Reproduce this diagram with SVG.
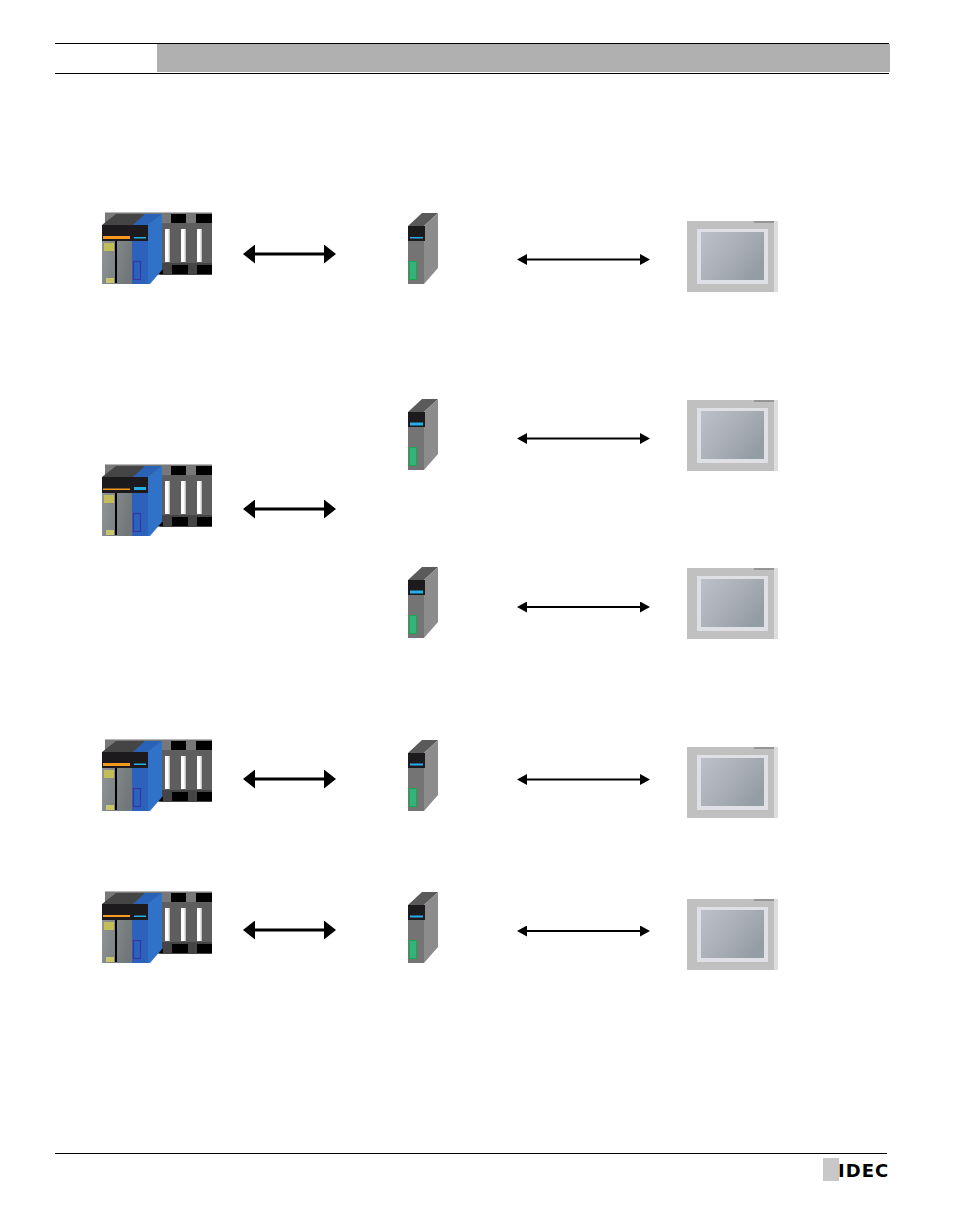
<svg xmlns="http://www.w3.org/2000/svg" width="954" height="1206" viewBox="0 0 954 1206">
<style>
.rule{stroke:#000;stroke-width:1.2;fill:none}
.thick{stroke:#000;stroke-width:3;fill:none}
.thin{stroke:#000;stroke-width:1.8;fill:none}
.k{fill:#000}
.head{fill:#1c1a1c}
.or{fill:#f59a1e}
.cy{fill:#25aee8}
.logo{font-family:"DejaVu Sans",sans-serif;font-weight:700;font-size:18px;letter-spacing:1px;fill:#000}
</style>
<defs>
<linearGradient id="gGray" x1="0" y1="0" x2="1" y2="0.3"><stop offset="0" stop-color="#8f9497"/><stop offset="1" stop-color="#72777a"/></linearGradient>
<linearGradient id="gScreen" x1="0" y1="0" x2="1" y2="0.6"><stop offset="0" stop-color="#bcc0c8"/><stop offset="0.5" stop-color="#acb1b8"/><stop offset="1" stop-color="#959da4"/></linearGradient>
<linearGradient id="gSlot" x1="0" y1="0" x2="1" y2="0"><stop offset="0" stop-color="#fff"/><stop offset="0.6" stop-color="#fff"/><stop offset="1" stop-color="#aaa"/></linearGradient>
<marker id="big0" markerUnits="userSpaceOnUse" markerWidth="12" markerHeight="19" refX="1" refY="9.5" orient="auto-start-reverse"><path d="M0 0L12 9.5L0 19Z" fill="#000"/></marker>
<marker id="small0" markerUnits="userSpaceOnUse" markerWidth="10" markerHeight="11" refX="1" refY="5.5" orient="auto-start-reverse"><path d="M0 0L10 5.5L0 11Z" fill="#000"/></marker>
<g id="plc">
<rect x="105" y="212" width="107" height="63" fill="#787878"/>
<rect x="105" y="212" width="107" height="1" fill="#b8b8b8"/>
<rect x="171" y="214" width="15" height="9" class="k"/>
<rect x="196" y="214" width="16" height="9" class="k"/>
<rect x="160" y="223" width="52" height="40" fill="#5e5e5e"/>
<rect x="160" y="263" width="52" height="12" fill="#454545"/>
<rect x="165" y="229" width="5" height="33" fill="url(#gSlot)"/>
<rect x="181" y="229" width="5" height="33" fill="url(#gSlot)"/>
<rect x="197" y="229" width="5" height="33" fill="url(#gSlot)"/>
<rect x="172" y="265" width="16" height="9" class="k"/>
<rect x="197" y="265" width="15" height="9" class="k"/>
<rect x="158" y="270" width="5" height="4" class="k"/>
<path d="M102 225L116 214H148L133 225Z" fill="#454545"/>
<path d="M133 225L145 214H162L148 225Z" fill="#2a62b8"/>
<path d="M148 225L162 214V270L150 284H148Z" fill="#2f72c8"/>
<rect x="102" y="241" width="30" height="43" fill="url(#gGray)"/>
<rect x="132" y="241" width="16" height="43" fill="#2c62bc"/>
<rect x="115" y="241" width="2" height="42" class="k"/>
<rect x="104" y="243" width="10" height="8" fill="#c2bd58"/>
<rect x="106" y="278" width="8" height="5" fill="#c9c56a"/>
<rect x="133.500" y="261.500" width="7" height="18" fill="none" stroke="#38389c" stroke-width="1.200"/>
<rect x="102" y="225" width="46" height="16" class="head"/>
</g>
<g id="mod">
<path d="M408 226L422 213H438L424 226Z" fill="#5a5a5a"/>
<path d="M424 226L438 213V268L424 284Z" fill="#8c8c8c"/>
<rect x="408" y="241" width="16" height="43" fill="#747474"/>
<rect x="408" y="226" width="17" height="15" class="head"/>
<rect x="409.500" y="261.500" width="7" height="18" fill="#35b27a" stroke="#17a84f" stroke-width="1"/>
</g>
<g id="scr">
<rect x="687" y="221" width="87" height="71" fill="#c0c0c0"/>
<rect x="774" y="221" width="4" height="71" fill="#dddddd"/>
<rect x="754" y="221" width="20" height="2" fill="#969696"/>
<rect x="697" y="229" width="71" height="55" fill="#dfe0e5"/>
<rect x="701" y="232" width="63" height="48" fill="url(#gScreen)"/>
</g>
</defs>

<g id="header">
<rect x="157" y="44" width="733" height="28" fill="#b0b0b0"/>
<path class="rule" d="M55 43.500H889M55 73.500H889"/>
</g>

<g id="plc1"><use href="#plc"/><rect x="103" y="236" width="27" height="3" class="or"/><rect x="134" y="237" width="12" height="1.500" class="cy"/></g>
<g id="plc2" transform="translate(0 252)"><use href="#plc"/><rect x="103" y="236.500" width="27" height="1.500" class="or"/><rect x="134" y="235" width="12" height="3" class="cy"/></g>
<g id="plc3" transform="translate(0 527)"><use href="#plc"/><rect x="103" y="236" width="27" height="3" class="or"/><rect x="134" y="236.500" width="12" height="1.500" class="cy"/></g>
<g id="plc4" transform="translate(0 679)"><use href="#plc"/><rect x="103" y="236" width="27" height="2" class="or"/><rect x="134" y="236.500" width="12" height="1.500" class="cy"/></g>

<g id="module1"><use href="#mod"/><rect x="410" y="237" width="13" height="1.500" class="cy"/></g>
<g id="module2" transform="translate(0 186)"><use href="#mod"/><rect x="410" y="236.500" width="13" height="3" class="cy"/></g>
<g id="module3" transform="translate(0 354)"><use href="#mod"/><rect x="410" y="236.500" width="13" height="3" class="cy"/></g>
<g id="module4" transform="translate(0 527)"><use href="#mod"/><rect x="410" y="236.500" width="13" height="2" class="cy"/></g>
<g id="module5" transform="translate(0 679)"><use href="#mod"/><rect x="410" y="236.500" width="13" height="2" class="cy"/></g>

<g id="screen1"><use href="#scr"/></g>
<g id="screen2" transform="translate(0 179)"><use href="#scr"/></g>
<g id="screen3" transform="translate(0 347)"><use href="#scr"/></g>
<g id="screen4" transform="translate(0 526)"><use href="#scr"/></g>
<g id="screen5" transform="translate(0 678)"><use href="#scr"/></g>

<g id="connectors">
<path class="thick" d="M254 254H325" marker-start="url(#big0)" marker-end="url(#big0)"/>
<path class="thick" d="M254 509H325" marker-start="url(#big0)" marker-end="url(#big0)"/>
<path class="thick" d="M254 779H325" marker-start="url(#big0)" marker-end="url(#big0)"/>
<path class="thick" d="M254 930H325" marker-start="url(#big0)" marker-end="url(#big0)"/>
<path class="thin" d="M526 259.500H641" marker-start="url(#small0)" marker-end="url(#small0)"/>
<path class="thin" d="M526 438.500H641" marker-start="url(#small0)" marker-end="url(#small0)"/>
<path class="thin" d="M526 607H641" marker-start="url(#small0)" marker-end="url(#small0)"/>
<path class="thin" d="M526 779.500H641" marker-start="url(#small0)" marker-end="url(#small0)"/>
<path class="thin" d="M526 931H641" marker-start="url(#small0)" marker-end="url(#small0)"/>
</g>

<g id="footer">
<path class="rule" d="M55 1153.500H887"/>
<rect x="823" y="1158" width="16" height="23" fill="#c8c8c8"/>
<text class="logo" x="838" y="1176.500">IDEC</text>
</g>
</svg>
